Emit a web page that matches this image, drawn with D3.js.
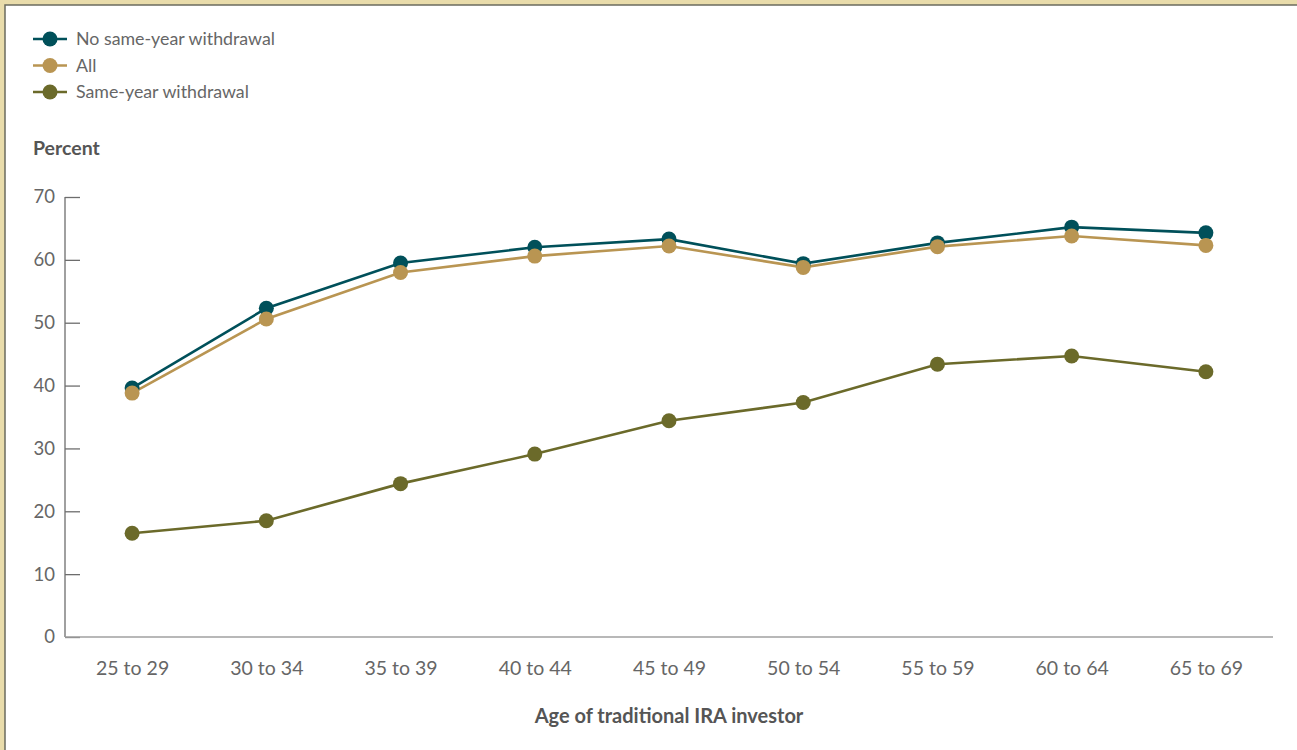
<!DOCTYPE html>
<html>
<head>
<meta charset="utf-8">
<script src="https://cdn.jsdelivr.net/npm/d3@7"></script>
<style>
  html, body { margin: 0; padding: 0; background: #fff; }
  svg { display: block; font-family: Lato, "Open Sans", sans-serif; }
</style>
</head>
<body>
<div id="vis"></div>
<script>
// data
const ageGroups = ['25 to 29', '30 to 34', '35 to 39', '40 to 44', '45 to 49', '50 to 54', '55 to 59', '60 to 64', '65 to 69'];
const noSameYear = [39.6, 52.3, 59.5, 62.0, 63.3, 59.4, 62.7, 65.2, 64.3];
const allInvestors = [38.8, 50.6, 58.0, 60.6, 62.2, 58.8, 62.1, 63.8, 62.3];
const sameYear = [16.5, 18.5, 24.4, 29.1, 34.4, 37.3, 43.4, 44.7, 42.2];
const yTicks = [0, 10, 20, 30, 40, 50, 60, 70];

const series = [
  { name: 'No same-year withdrawal', values: noSameYear, color: '#00505a' },
  { name: 'All', values: allInvestors, color: '#b99552' },
  { name: 'Same-year withdrawal', values: sameYear, color: '#6b6a2a' }
];

const W = 1297, H = 750;
const margin = { top: 197, left: 65, right: 24, bottom: 113 };

let svg = d3.select('#vis')
  .append('svg')
    .attr('width', W)
    .attr('height', H);

// frame
svg.append('rect').attr('x', 0).attr('y', 0).attr('width', W).attr('height', H).attr('fill', '#e9dcab');
svg.append('rect').attr('x', 5).attr('y', 5).attr('width', W).attr('height', H).attr('fill', '#fff')
  .attr('stroke', '#6b6b5f').attr('stroke-width', 1.5);

let xScale = d3.scalePoint()
  .domain(ageGroups)
  .range([margin.left, W - margin.right])
  .padding(0.5);

let yScale = d3.scaleLinear()
  .domain([0, 70])
  .range([H - margin.bottom, margin.top]);

// y axis
let yAxis = svg.append('g')
  .attr('transform', `translate(${margin.left},0)`)
  .call(d3.axisRight(yScale).tickValues(yTicks).tickSize(15).tickFormat(d3.format('d')));
yAxis.select('.domain').attr('stroke', '#6d6d6d').attr('stroke-width', 1.3)
  .attr('d', `M0,${yScale(70)}V${yScale(0)}`);
yAxis.selectAll('.tick line').attr('stroke', '#6d6d6d').attr('stroke-width', 1.3);
yAxis.selectAll('.tick text')
  .attr('x', -10)
  .attr('text-anchor', 'end')
  .attr('fill', '#666')
  .style('font-size', '18.5px')
  .style('font-family', 'Lato, sans-serif');

// x axis
let xAxis = svg.append('g')
  .attr('transform', `translate(0,${yScale(0)})`)
  .call(d3.axisBottom(xScale).tickSize(0));
xAxis.select('.domain').attr('stroke', '#a0a0a0').attr('stroke-width', 1.5)
  .attr('d', `M${margin.left},0H${W - margin.right}`);
xAxis.selectAll('.tick text')
  .attr('y', 24)
  .attr('fill', '#666')
  .style('font-size', '19.5px')
  .style('font-family', 'Lato, sans-serif');

// axis titles
svg.append('text')
  .attr('x', 33).attr('y', 155)
  .attr('fill', '#555')
  .style('font-size', '19.5px').style('font-weight', 'bold')
  .text('Percent');

svg.append('text')
  .attr('x', (margin.left + W - margin.right) / 2).attr('y', 723)
  .attr('text-anchor', 'middle')
  .attr('fill', '#555')
  .style('font-size', '20px').style('font-weight', 'bold')
  .text('Age of traditional IRA investor');

// lines and points
let line = d3.line()
  .x((d, i) => xScale(ageGroups[i]))
  .y(d => yScale(d));

series.forEach(function(s) {
  svg.append('path')
    .attr('d', line(s.values))
    .attr('fill', 'none')
    .attr('stroke', s.color)
    .attr('stroke-width', 2.6);
});
series.forEach(function(s) {
  svg.append('g')
    .selectAll('circle')
    .data(s.values)
    .enter().append('circle')
      .attr('cx', (d, i) => xScale(ageGroups[i]))
      .attr('cy', d => yScale(d))
      .attr('r', 7.5)
      .attr('fill', s.color);
});

// legend
let legend = svg.append('g');
series.forEach(function(s, i) {
  let y = 39 + i * 26.5;
  legend.append('line')
    .attr('x1', 33).attr('x2', 67).attr('y1', y).attr('y2', y)
    .attr('stroke', s.color).attr('stroke-width', 2.6);
  legend.append('circle')
    .attr('cx', 50).attr('cy', y).attr('r', 7.5)
    .attr('fill', s.color);
  legend.append('text')
    .attr('x', 76).attr('y', y + 6)
    .attr('fill', '#666')
    .style('font-size', '17.8px')
    .text(s.name);
});
</script>
</body>
</html>
